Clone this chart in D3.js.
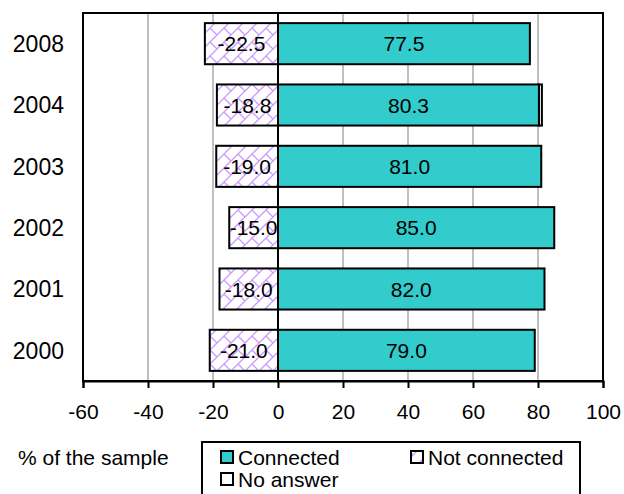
<!DOCTYPE html>
<html><head><meta charset="utf-8">
<script src="https://cdn.jsdelivr.net/npm/d3@7"></script>
<style>body{margin:0;background:#fff}svg{display:block}svg text{font-family:"Liberation Sans",Arial,sans-serif;fill:#000}</style>
</head><body>
<script>
const years = ["2008","2004","2003","2002","2001","2000"];
const connected = [77.5, 80.3, 81.0, 85.0, 82.0, 79.0];
const notConnected = [-22.5, -18.8, -19.0, -15.0, -18.0, -21.0];
const noAnswer = [0, 0.9, 0, 0, 0, 0];
const xTicks = [-60,-40,-20,0,20,40,60,80,100];
const legendItems = ["Connected","Not connected","No answer"];

const W=624,H=494;
const svg=d3.select("body").append("svg").attr("width",W).attr("height",H);
const defs=svg.append("defs");
const P=14;
const pat=defs.append("pattern").attr("id","hatch").attr("patternUnits","userSpaceOnUse")
  .attr("width",P).attr("height",P);
pat.append("rect").attr("width",P).attr("height",P).attr("fill","#fff");
pat.append("path").attr("d",`M0,${P} L${P},0 M-3,3 L3,-3 M${P-3},${P+3} L${P+3},${P-3} M0,0 L${P/2},${P/2}`)
  .attr("stroke","#cc99ff").attr("stroke-width",1.3).attr("fill","none");

const L=83,R=603,T=13,B=381;
const x=d3.scaleLinear().domain([-60,100]).range([L,R]);
const y=d3.scaleBand().domain(years).range([T,B]).paddingInner(0.33).paddingOuter(0.165);

// gridlines
svg.append("g").selectAll("line").data(xTicks.filter(t=>t>-60&&t<100&&t!==0)).join("line")
  .attr("x1",d=>x(d)).attr("x2",d=>x(d)).attr("y1",T).attr("y2",B)
  .attr("stroke","#c0c0c0").attr("stroke-width",2);

const g=svg.append("g");
years.forEach((yr,i)=>{
  const by=y(yr),bh=y.bandwidth();
  g.append("rect").attr("x",x(notConnected[i])).attr("y",by).attr("width",x(0)-x(notConnected[i])).attr("height",bh)
    .attr("fill","url(#hatch)").attr("stroke","#000").attr("stroke-width",2);
  g.append("rect").attr("x",x(0)).attr("y",by).attr("width",x(connected[i])-x(0)).attr("height",bh)
    .attr("fill","#33cccc").attr("stroke","#000").attr("stroke-width",2);
  if(noAnswer[i]>0){
    g.append("rect").attr("x",x(connected[i])).attr("y",by).attr("width",x(connected[i]+noAnswer[i])-x(connected[i])).attr("height",bh)
      .attr("fill","#fff").attr("stroke","#000").attr("stroke-width",2);
  }
  g.append("text").attr("x",(x(notConnected[i])+x(0))/2).attr("y",by+bh/2).attr("dy","0.36em")
    .attr("text-anchor","middle").attr("font-size",21).text(notConnected[i].toFixed(1));
  g.append("text").attr("x",(x(connected[i])+x(0))/2).attr("y",by+bh/2).attr("dy","0.36em")
    .attr("text-anchor","middle").attr("font-size",21).text(connected[i].toFixed(1));
  svg.append("text").attr("x",64).attr("y",by+bh/2).attr("dy","0.36em").attr("text-anchor","end")
    .attr("font-size",23).text(yr);
});

// zero line
svg.append("line").attr("x1",x(0)).attr("x2",x(0)).attr("y1",T).attr("y2",B).attr("stroke","#000").attr("stroke-width",2);
// frame
svg.append("rect").attr("x",L).attr("y",T).attr("width",R-L).attr("height",B-T).attr("fill","none").attr("stroke","#000").attr("stroke-width",2);

// x axis
const ax=svg.append("g").attr("transform",`translate(0,${B})`)
  .call(d3.axisBottom(x).tickValues(xTicks).tickSize(7).tickPadding(16).tickFormat(d3.format("d")));
ax.select(".domain").attr("stroke-width",2);
ax.selectAll("line").attr("stroke-width",2);
ax.selectAll("text").attr("font-size",21).text(d=>String(d));

// legend
svg.append("text").attr("x",18).attr("y",457).attr("dy","0.36em").attr("font-size",21).text("% of the sample");
svg.append("rect").attr("x",202).attr("y",442).attr("width",378).attr("height",70).attr("fill","#fff").attr("stroke","#000").attr("stroke-width",2);
const lg=[{x:220,y:457,fill:"#33cccc"},{x:410,y:457,fill:"url(#hatch)"},{x:220,y:479,fill:"#fff"}];
lg.forEach((o,i)=>{
  svg.append("rect").attr("x",o.x+1).attr("y",o.y-6).attr("width",12).attr("height",12).attr("fill",o.fill).attr("stroke","#000").attr("stroke-width",2);
  svg.append("text").attr("x",o.x+18).attr("y",o.y).attr("dy","0.36em").attr("font-size",21).text(legendItems[i]);
});
</script>
</body></html>
